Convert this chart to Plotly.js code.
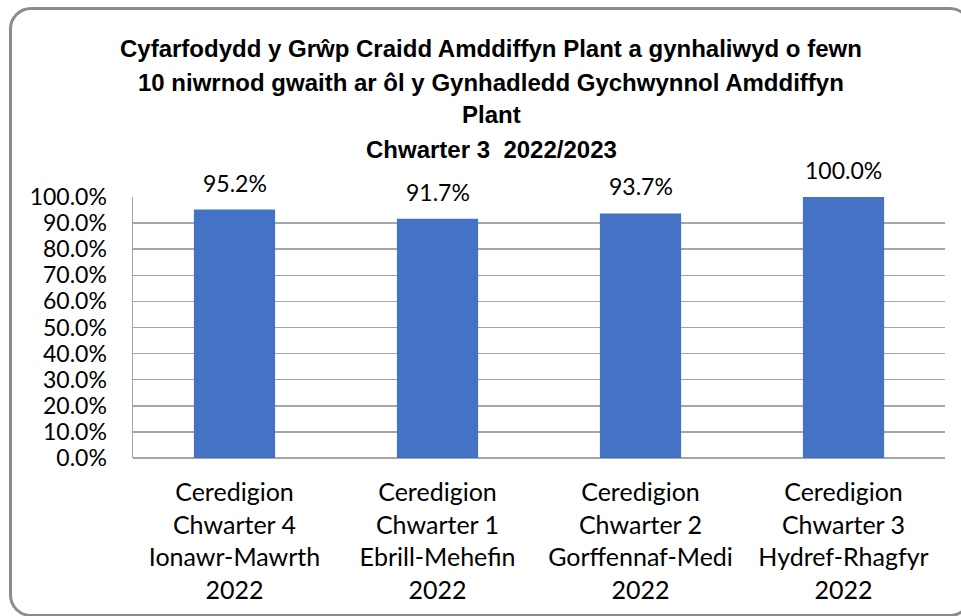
<!DOCTYPE html>
<html>
<head>
<meta charset="utf-8">
<script src="https://cdn.plot.ly/plotly-3.0.1.min.js"></script>
<style>
  html, body { margin: 0; padding: 0; background: #ffffff; }
  #wrap { position: relative; width: 961px; height: 616px; overflow: hidden; }
  #frame { position: absolute; left: 9px; top: 7px; width: 963px; height: 610px;
           border: 3px solid #8c8c8c; border-radius: 22px; box-sizing: border-box; }
  #chart { position: absolute; left: 0; top: 0; width: 961px; height: 616px; }
</style>
</head>
<body>
<div id="wrap">
  <div id="frame"></div>
  <div id="chart"></div>
</div>
<script>
// ---- data ----
const titleLines = [
  "Cyfarfodydd y Grŵp Craidd Amddiffyn Plant a gynhaliwyd o fewn",
  "10 niwrnod gwaith ar ôl y Gynhadledd Gychwynnol Amddiffyn",
  "Plant",
  "Chwarter 3  2022/2023"
];
const categories = [
  "Ceredigion<br>Chwarter 4<br>Ionawr-Mawrth<br>2022",
  "Ceredigion<br>Chwarter 1<br>Ebrill-Mehefin<br>2022",
  "Ceredigion<br>Chwarter 2<br>Gorffennaf-Medi<br>2022",
  "Ceredigion<br>Chwarter 3<br>Hydref-Rhagfyr<br>2022"
];
const values = [0.952, 0.917, 0.937, 1.000];
const valueLabels = ["95.2%", "91.7%", "93.7%", "100.0%"];
const yTickValues = [0, 0.1, 0.2, 0.3, 0.4, 0.5, 0.6, 0.7, 0.8, 0.9, 1.0];
const yTickLabels = ["0.0%", "10.0%", "20.0%", "30.0%", "40.0%", "50.0%", "60.0%", "70.0%", "80.0%", "90.0%", "100.0%"];

// ---- layout helpers ----
const W = 961, H = 616;
const M = { l: 133, r: 16, t: 197, b: 158 };
const plotH = H - M.t - M.b;
const plotW = W - M.l - M.r;
const pyFromPixel = p => (H - M.b - p) / plotH;
const pxFromPixel = p => (p - M.l) / plotW;

const bodyFont = "Lato, 'Open Sans', sans-serif";
const titleFont = "'Liberation Sans', Arial, sans-serif";
const titleCenters = [48, 82, 114, 149];

const annotations = [];
titleLines.forEach((t, i) => {
  annotations.push({
    text: "<b>" + t + "</b>", xref: "paper", yref: "paper",
    x: pxFromPixel(491), y: pyFromPixel(titleCenters[i]),
    xanchor: "center", yanchor: "middle", showarrow: false,
    font: { family: titleFont, size: 24, color: "#000000" }
  });
});
categories.forEach((c, i) => {
  annotations.push({
    text: valueLabels[i], x: c, y: values[i], xref: "x", yref: "y",
    xanchor: "center", yanchor: "middle", yshift: 27, showarrow: false,
    font: { family: bodyFont, size: 23, color: "#000000" }
  });
});

const trace = {
  type: "bar", x: categories, y: values,
  marker: { color: "#4472C4", line: { width: 0 } },
  width: 0.4, hoverinfo: "skip"
};

const layout = {
  width: W, height: H,
  margin: M,
  paper_bgcolor: "rgba(0,0,0,0)", plot_bgcolor: "rgba(0,0,0,0)",
  showlegend: false,
  bargap: 0.6,
  xaxis: {
    type: "category", showgrid: false, zeroline: false,
    showline: false, ticks: "", ticklabelstandoff: 17,
    tickfont: { family: bodyFont, size: 25, color: "#000000" }
  },
  yaxis: {
    range: [0, 1], tickvals: yTickValues, ticktext: yTickLabels,
    showgrid: true, gridcolor: "#a6a6a6", gridwidth: 1.5,
    zeroline: true, zerolinecolor: "#a6a6a6", zerolinewidth: 1.5,
    showline: true, linecolor: "#a6a6a6", linewidth: 1.5,
    ticks: "", ticklabelstandoff: 20,
    tickfont: { family: bodyFont, size: 23, color: "#000000" }
  },
  annotations: annotations
};

Plotly.newPlot("chart", [trace], layout, { staticPlot: true, displayModeBar: false });
</script>
</body>
</html>
